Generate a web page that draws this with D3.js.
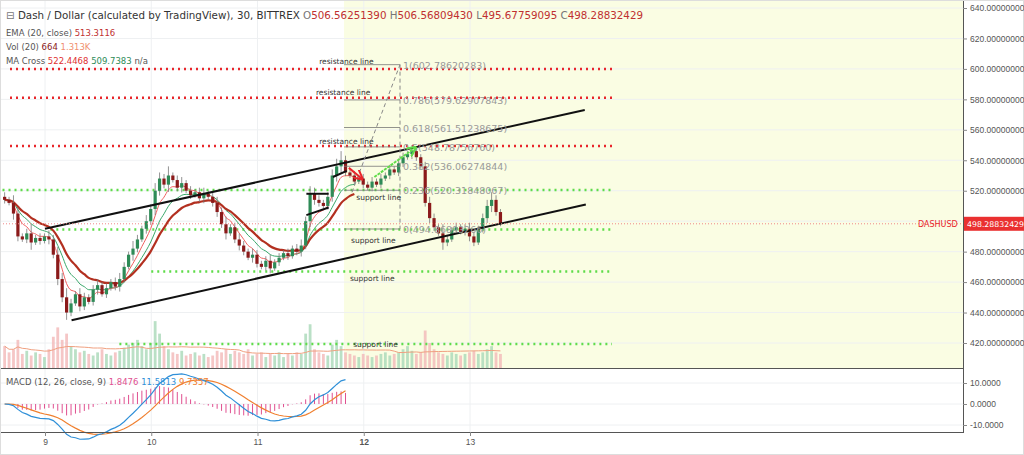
<!DOCTYPE html>
<html lang="en">
<head>
<meta charset="utf-8" />
<title>Dash / Dollar</title>
<script src="https://cdn.jsdelivr.net/npm/d3@7"></script>
<style>
  body { margin:0; background:#fff; font-family:"DejaVu Sans",sans-serif; }
</style>
</head>
<body>
<script>
// hourly closes, starting day 8.62
var t0 = 8.62, step = 1/24;
var closes = [514,512,505,490,488,492,486,489,487,490,488,478,462,450,440,446,452,444,450,447,
  455,458,452,456,460,457,462,470,478,482,488,495,500,508,520,528,524,530,527,522,
  525,520,517,519,515,518,516,512,506,498,492,496,488,484,480,476,478,472,470,474,
  469,473,476,479,477,482,480,484,500,518,514,512,510,516,530,536,540,532,530,526,
  528,524,522,526,524,528,530,534,532,538,542,544,546,542,536,512,502,496,492,486,
  488,494,496,493,495,490,486,495,502,510,514,506,498.3];
var firstOpen = 516;
var wicks = [3,2,5,4,2,3,6,2,3,2,4,3,5,4,6,3,2,4,3,2,3,4,2,3,2,3,4,3,2,5,3,2,4,3,5,4,3,6,2,3,
  4,2,3,2,3,4,2,3,4,3,5,2,3,4,3,2,4,3,2,3,4,2,3,2,3,2,3,4,3,5,4,3,2,3,4,5,6,3,2,3,
  2,3,2,3,2,3,2,3,2,3,3,2,4,3,2,3,4,3,2,6,3,2,3,2,3,4,3,2,3,4,5,3,2];
var volumes = [14,10,12,18,9,11,8,10,9,7,12,20,26,18,22,14,12,10,11,9,8,10,12,9,8,10,11,13,15,16,
  18,14,12,16,30,22,14,12,10,9,11,8,9,10,8,9,7,8,11,10,12,9,11,10,9,12,8,9,10,7,
  9,8,10,7,9,8,10,9,22,28,12,10,9,8,15,18,14,10,9,8,7,9,8,7,8,9,10,8,9,10,
  12,14,11,9,10,24,16,12,10,9,8,10,9,8,9,10,11,9,10,12,14,10,9];
var priceTicks = [420,440,460,480,500,520,540,560,580,600,620,640];
var dayTicks = [9,10,11,12,13];
var macdTicks = [10,0,-10];
// overlay levels
var redLevels = [600, 581, 549.4];
var greenLevels = [[8.6,520.5],[9.05,494.5],[10.0,467],[9.7,419.4]];
var channels = [[[9.0,495],[14.08,573]],[[9.25,435],[14.09,511]],
  [[11.46,518],[11.67,518]],[[11.46,504],[11.67,509]],[[11.71,529],[11.84,533]]];
var fibLevels = [[1,602.78620283],[0.786,579.62907843],[0.618,561.51238675],[0.5,548.7875676],
  [0.382,536.06274844],[0.236,520.31848067],[0,494.86893266]];
var resistLabels = [[11.58,603],[11.55,583],[11.58,551]];
var supportLabels = [[11.93,514],[11.88,486],[11.87,460.5],[11.9,417.5]];
var lastPrice = 498.28832429;

var W = 1024, H = 455, axisX = 963;
var x = d3.scaleLinear().domain([9,13]).range([45,470]);
var y = d3.scaleLinear().domain([420,640]).range([343,8]);
var yv = d3.scaleLinear().domain([0,32]).range([368,318]);
var ym = d3.scaleLinear().domain([-10,10]).range([425,383]);
var cx = function(i){ return x(t0 + i*step); };

var svg = d3.select('body').append('svg').attr('width',W).attr('height',H)
  .style('font-family','"DejaVu Sans",sans-serif');

svg.append('rect').attr('x',344).attr('y',0).attr('width',axisX-344).attr('height',368).attr('fill','#fafde3');
// grid
priceTicks.forEach(function(p){
  svg.append('line').attr('x1',0).attr('x2',axisX).attr('y1',y(p)).attr('y2',y(p)).attr('stroke','#eef0f2');
});
dayTicks.forEach(function(d){
  svg.append('line').attr('x1',x(d)).attr('x2',x(d)).attr('y1',0).attr('y2',432).attr('stroke','#eef0f2');
});
macdTicks.forEach(function(m){
  svg.append('line').attr('x1',0).attr('x2',axisX).attr('y1',ym(m)).attr('y2',ym(m)).attr('stroke','#eef0f2');
});

// volumes
volumes.forEach(function(v,i){
  var o = i ? closes[i-1] : firstOpen;
  svg.append('rect').attr('x',cx(i)-1.4).attr('width',2.8).attr('y',yv(v)).attr('height',yv(0)-yv(v))
    .attr('fill', closes[i]>=o ? '#a9d8b8' : '#f2b8b8').attr('opacity',0.8);
});
var volMa = volumes.map(function(v,i){ var s=volumes.slice(Math.max(0,i-19),i+1); return d3.mean(s); });
svg.append('path').attr('d',d3.line().x(function(d,i){return cx(i);}).y(function(d){return yv(d);})(volMa))
  .attr('fill','none').attr('stroke','#f0a080').attr('stroke-width',1);

// levels
redLevels.forEach(function(p){
  svg.append('line').attr('x1',10).attr('x2',615).attr('y1',y(p)).attr('y2',y(p))
    .attr('stroke','#e8262b').attr('stroke-width',2.5).attr('stroke-dasharray','2,4');
});
greenLevels.forEach(function(g){
  svg.append('line').attr('x1',x(g[0])).attr('x2',612).attr('y1',y(g[1])).attr('y2',y(g[1]))
    .attr('stroke','#5fdc4a').attr('stroke-width',2.5).attr('stroke-dasharray','2,4');
});

// moving averages
function ema(arr,n){ var k=2/(n+1), out=[], e=arr[0]; arr.forEach(function(v){ e=v*k+e*(1-k); out.push(e); }); return out; }
var line = d3.line().x(function(d,i){return cx(i);}).y(function(d){return y(d);}).curve(d3.curveMonotoneX);
var maFast = ema(closes,5), maSlow = ema(closes,9), ema20 = ema(closes,14);
svg.append('path').attr('d',line(maSlow.slice(0,80))).attr('fill','none').attr('stroke','#3aa86b').attr('stroke-width',1);
svg.append('path').attr('d',line(maFast.slice(0,80))).attr('fill','none').attr('stroke','#f06060').attr('stroke-width',1);
svg.append('path').attr('d',line(ema20.slice(0,80))).attr('fill','none').attr('stroke','#b33020').attr('stroke-width',2.2);

// candles
closes.forEach(function(c,i){
  var o = i ? closes[i-1] : firstOpen, up = c>=o;
  var col = up ? '#2e8b57' : '#8b1a1a';
  svg.append('line').attr('x1',cx(i)).attr('x2',cx(i)).attr('y1',y(Math.max(o,c)+wicks[i])).attr('y2',y(Math.min(o,c)-wicks[i]*0.8))
    .attr('stroke','#777').attr('stroke-width',0.8);
  svg.append('rect').attr('x',cx(i)-1.6).attr('width',3.2).attr('y',y(Math.max(o,c)))
    .attr('height',Math.max(1,Math.abs(y(o)-y(c)))).attr('fill',col);
});

// channel lines
channels.forEach(function(s){
  svg.append('line').attr('x1',x(s[0][0])).attr('y1',y(s[0][1])).attr('x2',x(s[1][0])).attr('y2',y(s[1][1]))
    .attr('stroke','#111').attr('stroke-width',2);
});

// fibonacci
var fx0 = 344, fx1 = 400;
fibLevels.forEach(function(f){
  svg.append('line').attr('x1',fx0).attr('x2',fx1).attr('y1',y(f[1])).attr('y2',y(f[1])).attr('stroke','#777').attr('stroke-width',0.8);
  svg.append('text').attr('x',fx1+3).attr('y',y(f[1])+4).attr('font-size',9.5).attr('fill','#999')
    .text(f[0]+'('+f[1].toFixed(8)+')');
});
svg.append('line').attr('x1',fx1).attr('x2',fx1).attr('y1',y(602.8)).attr('y2',y(494.9))
  .attr('stroke','#888').attr('stroke-dasharray','4,3');
svg.append('line').attr('x1',352).attr('x2',fx1).attr('y1',y(519)).attr('y2',y(602.8))
  .attr('stroke','#888').attr('stroke-dasharray','4,3');

resistLabels.forEach(function(r){
  svg.append('text').attr('x',x(r[0])).attr('y',y(r[1])).attr('font-size',7.5).attr('fill','#333').text('resistance line');
});
supportLabels.forEach(function(r){
  svg.append('text').attr('x',x(r[0])).attr('y',y(r[1])).attr('font-size',7.5).attr('fill','#333').text('support line');
});

// arrows
var defs = svg.append('defs');
[['ar','#e8262b'],['ag','#5fdc4a']].forEach(function(a){
  defs.append('marker').attr('id',a[0]).attr('viewBox','0 0 10 10').attr('refX',8).attr('refY',5)
    .attr('markerWidth',5).attr('markerHeight',5).attr('orient','auto')
    .append('path').attr('d','M0,0L10,5L0,10').attr('fill','none').attr('stroke',a[1]).attr('stroke-width',2);
});
svg.append('line').attr('x1',x(11.86)).attr('y1',y(535)).attr('x2',x(11.98)).attr('y2',y(528))
  .attr('stroke','#e8262b').attr('stroke-width',2).attr('marker-end','url(#ar)');
svg.append('line').attr('x1',x(12.1)).attr('y1',y(529)).attr('x2',x(12.48)).attr('y2',y(548))
  .attr('stroke','#5fdc4a').attr('stroke-width',2).attr('stroke-dasharray','3,1').attr('marker-end','url(#ag)');

// last price line
svg.append('line').attr('x1',0).attr('x2',axisX).attr('y1',y(lastPrice)).attr('y2',y(lastPrice))
  .attr('stroke','#e88').attr('stroke-dasharray','1,2');

// MACD
var e12 = ema(closes,12), e26 = ema(closes,26);
var macd = e12.map(function(v,i){ return v-e26[i]; });
var sig = ema(macd,9);
var nM = 78;
var ml = d3.line().x(function(d,i){return cx(i);}).y(function(d){return ym(d);});
macd.slice(0,nM).forEach(function(m,i){
  var h = m - sig[i];
  svg.append('line').attr('x1',cx(i)).attr('x2',cx(i)).attr('y1',ym(0)).attr('y2',ym(h))
    .attr('stroke','#e05090').attr('stroke-width',1);
});
svg.append('path').attr('d',ml(sig.slice(0,nM))).attr('fill','none').attr('stroke','#f08030').attr('stroke-width',1.2);
svg.append('path').attr('d',ml(macd.slice(0,nM))).attr('fill','none').attr('stroke','#3090d8').attr('stroke-width',1.2);

// pane borders
svg.append('line').attr('x1',0).attr('x2',axisX).attr('y1',368.5).attr('y2',368.5).attr('stroke','#555');
svg.append('line').attr('x1',0).attr('x2',axisX).attr('y1',432.5).attr('y2',432.5).attr('stroke','#555');
svg.append('line').attr('x1',axisX+0.5).attr('x2',axisX+0.5).attr('y1',0).attr('y2',433).attr('stroke','#555');
svg.append('rect').attr('x',0.5).attr('y',0.5).attr('width',W-1).attr('height',H-1).attr('fill','none').attr('stroke','#ddd');

// right axes (the 500 label is covered by the last-price tag)
var ax = svg.append('g').attr('transform','translate('+axisX+',0)')
  .call(d3.axisRight(y).tickValues(priceTicks.filter(function(p){return p!==500;})).tickSize(4).tickFormat(function(d){return d.toFixed(8);}));
var am = svg.append('g').attr('transform','translate('+axisX+',0)')
  .call(d3.axisRight(ym).tickValues(macdTicks).tickSize(4).tickFormat(function(d){return d.toFixed(4);}));
var at = svg.append('g').attr('transform','translate(0,432)')
  .call(d3.axisBottom(x).tickValues(dayTicks).tickSize(4).tickFormat(d3.format('d')));
[ax,am,at].forEach(function(g){
  g.select('.domain').remove();
  g.selectAll('text').attr('font-size',8.5).attr('fill','#555');
  g.selectAll('line').attr('stroke','#888');
});
at.selectAll('text').filter(function(d){return d===12;}).attr('font-weight','bold');

svg.append('text').attr('x',918).attr('y',y(lastPrice)+3).attr('font-size',8).attr('fill','#e8262b').text('DASHUSD');
svg.append('rect').attr('x',axisX+1).attr('y',y(lastPrice)-7).attr('width',60).attr('height',14).attr('fill','#ea3030');
svg.append('text').attr('x',axisX+4).attr('y',y(lastPrice)+3).attr('font-size',7.8).attr('fill','#fff').text(lastPrice.toFixed(8));

// legend
var t = svg.append('text').attr('x',6).attr('y',19).attr('font-size',10.3).attr('fill','#333');
t.append('tspan').attr('fill','#777').text('\u229F ');
t.append('tspan').text('Dash / Dollar (calculated by TradingView), 30, BITTREX  ');
[['O','506.56251390'],['H','506.56809430'],['L','495.67759095'],['C','498.28832429']].forEach(function(p){
  t.append('tspan').attr('fill','#777').text(' '+p[0]);
  t.append('tspan').attr('fill','#c03030').text(p[1]);
});
function legend(yy, parts){
  var tx = svg.append('text').attr('x',6).attr('y',yy).attr('font-size',8.5).attr('fill','#555');
  parts.forEach(function(p){ tx.append('tspan').attr('fill',p[1]).text(p[0]); });
}
legend(36,[['EMA (20, close)   ','#555'],['513.3116','#c03030']]);
legend(50,[['Vol (20)   ','#555'],['664   ','#8b2020'],['1.313K','#f09070']]);
legend(64,[['MA Cross   ','#555'],['522.4468   ','#e03030'],['509.7383   ','#2e8b57'],['n/a','#555']]);
legend(385,[['MACD (12, 26, close, 9)   ','#555'],['1.8476   ','#e05090'],['11.5813   ','#3090d8'],['9.7357','#f08030']]);
</script>
</body>
</html>
